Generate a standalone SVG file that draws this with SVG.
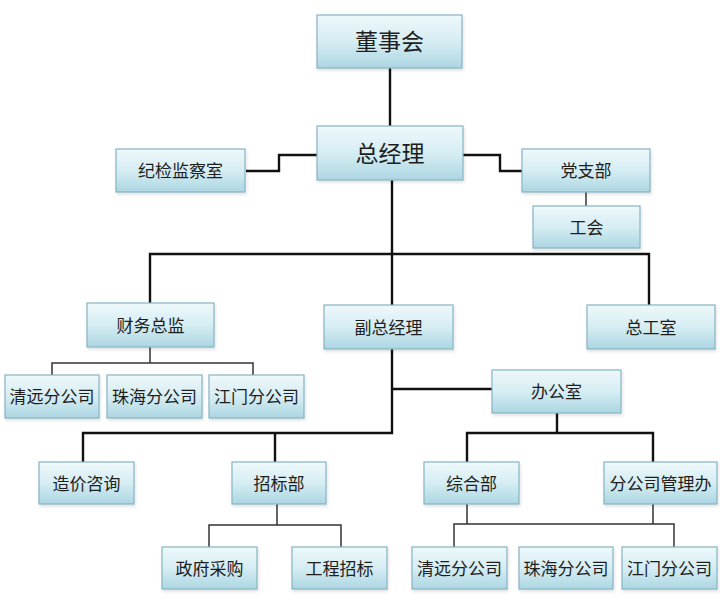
<svg xmlns="http://www.w3.org/2000/svg" width="720" height="602" viewBox="0 0 720 602">
<style>
.box{fill:url(#g);stroke:#86b4c4;stroke-width:1.2;filter:url(#sh)}
.t{font-family:"Noto Sans CJK SC","Liberation Sans",sans-serif;fill:#1e1e1e;text-anchor:middle;font-size:17px}
.big{font-size:23px}
.main{fill:none;stroke:#111;stroke-width:2.4}
.sub{fill:none;stroke:#333;stroke-width:1.5}
</style>
<defs>
<linearGradient id="g" x1="0" y1="0" x2="0" y2="1">
<stop offset="0" stop-color="#eef8fa"/>
<stop offset="0.5" stop-color="#d6edf3"/>
<stop offset="1" stop-color="#acd6e2"/>
</linearGradient>
<filter id="sh" x="-10%" y="-10%" width="125%" height="135%">
<feDropShadow dx="1" dy="2" stdDeviation="1.5" flood-color="#000" flood-opacity="0.12"/>
</filter>
</defs>
<rect width="720" height="602" fill="#fff"/>
<g id="connectors">
<path class="main" d="M390 68V126"/>
<path class="main" d="M246 171H279V155H317"/>
<path class="main" d="M463 155H500V171H523"/>
<path class="sub" d="M586 192V206"/>
<path class="main" d="M392 180V305"/>
<path class="main" d="M150 303V254H649V305"/>
<path class="sub" d="M150 347V363M52 375V363H253V375"/>
<path class="main" d="M392 349V433H83V462M275 433V462M392 389H492"/>
<path class="main" d="M557 413V433M467 462V433H653V462"/>
<path class="sub" d="M277 504V525M209 547V525H341V547"/>
<path class="sub" d="M467 504V524M653 504V524M454 547V524H674V547"/>
</g>
<g id="n1"><rect class="box" x="317" y="15" width="145" height="53"/><text class="t big" x="389.5" y="50">董事会</text></g>
<g id="n2"><rect class="box" x="317" y="126" width="146" height="54"/><text class="t big" x="390" y="161.5">总经理</text></g>
<g id="n3"><rect class="box" x="116" y="149" width="129" height="43"/><text class="t" x="180.5" y="177">纪检监察室</text></g>
<g id="n4"><rect class="box" x="522" y="149" width="128" height="43"/><text class="t" x="586" y="177">党支部</text></g>
<g id="n5"><rect class="box" x="533" y="206" width="107" height="42"/><text class="t" x="586.5" y="233.5">工会</text></g>
<g id="n6"><rect class="box" x="87" y="303" width="127" height="44"/><text class="t" x="150.5" y="331.5">财务总监</text></g>
<g id="n7"><rect class="box" x="324" y="305" width="129" height="44"/><text class="t" x="388.5" y="333.5">副总经理</text></g>
<g id="n8"><rect class="box" x="587" y="305" width="128" height="44"/><text class="t" x="651" y="333.5">总工室</text></g>
<g id="n9"><rect class="box" x="5" y="375" width="94" height="43"/><text class="t" x="52" y="403">清远分公司</text></g>
<g id="n10"><rect class="box" x="107" y="375" width="95" height="43"/><text class="t" x="154.5" y="403">珠海分公司</text></g>
<g id="n11"><rect class="box" x="209" y="375" width="95" height="43"/><text class="t" x="256.5" y="403">江门分公司</text></g>
<g id="n12"><rect class="box" x="492" y="370" width="129" height="43"/><text class="t" x="556.5" y="398">办公室</text></g>
<g id="n13"><rect class="box" x="39" y="462" width="95" height="42"/><text class="t" x="86.5" y="489.5">造价咨询</text></g>
<g id="n14"><rect class="box" x="232" y="462" width="94" height="42"/><text class="t" x="279" y="489.5">招标部</text></g>
<g id="n15"><rect class="box" x="424" y="462" width="95" height="42"/><text class="t" x="471.5" y="489.5">综合部</text></g>
<g id="n16"><rect class="box" x="604" y="462" width="113" height="42"/><text class="t" x="660.5" y="489.5">分公司管理办</text></g>
<g id="n17"><rect class="box" x="162" y="547" width="95" height="42"/><text class="t" x="209.5" y="574.5">政府采购</text></g>
<g id="n18"><rect class="box" x="292" y="547" width="95" height="42"/><text class="t" x="339.5" y="574.5">工程招标</text></g>
<g id="n19"><rect class="box" x="412" y="547" width="95" height="42"/><text class="t" x="459.5" y="574.5">清远分公司</text></g>
<g id="n20"><rect class="box" x="519" y="547" width="94" height="42"/><text class="t" x="566" y="574.5">珠海分公司</text></g>
<g id="n21"><rect class="box" x="622" y="547" width="95" height="42"/><text class="t" x="669.5" y="574.5">江门分公司</text></g>
</svg>
